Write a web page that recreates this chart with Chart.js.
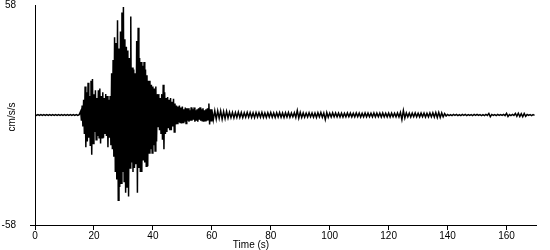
<!DOCTYPE html>
<html>
<head>
    <title>Acceleration record</title>
    <script src="https://cdn.jsdelivr.net/npm/chart.js"></script>
    <style>
        html, body { margin: 0; padding: 0; background: #fff; }
        #wrap { width: 550px; height: 250px; }
    </style>
</head>
<body>
<div id="wrap"><canvas id="accelChart" width="550" height="250"></canvas></div>
<script>
// --- Data (cm/s/s) ---
// quiet part before the P arrival, one sample every 0.5 s from 0 s
const preEvent = [
    0.2, -0.2, 0.2, -0.2, 0.2, -0.2, 0.2, -0.2, 0.2, -0.2,
    0.2, -0.2, 0.2, -0.2, 0.2, -0.2, 0.2, -0.2, 0.2, -0.2,
    0.2, -0.2, 0.2, -0.2, 0.2, -0.2, 0.2, -0.2, 0.2, -0.2, 0.2
];

// strong motion, one sample every 0.25 s from 15.5 s
const strongMotion = [
    2, -3,
    5, -6, 8, -10,          // 16 s
    15, -17, 12, -14,
    17, -12, 10, -16,
    18, -21, 19, -15,
    11, -9, 13, -13,        // 20 s
    9, -11, 13, -12,
    14, -15, 10, -12,
    12, -12, 9, -10,
    11, -11, 10, -17,
    8, -12, 10, -16,        // 25 s
    22, -18, 29, -22,
    41, -30, 38, -34,
    50, -45, 35, -38,
    44, -36, 54, -30,
    57, -35, 40, -41,       // 30 s
    36, -38, 34, -43,
    30, -28, 52, -25,
    25, -30, 24, -28,
    22, -26, 39, -41,
    46, -28, 30, -30,       // 35 s
    28, -30, 26, -24,
    28, -25, 24, -27,
    21, -27, 18, -20,
    18, -18, 16, -20,
    15, -16, 14, -19,       // 40 s
    15, -14, 11, -6,
    11, -8, 9, -10,
    11, -13, 16, -18,
    12, -10, 9, -9,
    9.5, -7, 8, -8,         // 45 s
    9, -8, 7, -6,
    8.5, -9, 6, -5,
    5, -4.5, 4.5, -4,
    5, -4, 4, -4.5,
    4.5, -4, 3, -3.5,       // 50 s
    4, -4.5, 3.5, -3,
    3.5, -3.5, 2.5, -3,
    4, -3, 3, -2.5,
    4, -3.5, 2.5, -3,
    3, -3.5, 3.5, -2.5,     // 55 s
    4, -3, 3, -3,
    3.5, -3.5, 2.5, -3,
    3, -3, 3.5, -2.5,
    6, -5, 3, -3
];

// coda, one sample every 0.5 s from 60 s
const coda = [
    3, -2.6, 2.2, -2.2,     // 60 s
    2.2, -1.8, 2.2, -2.2,
    1.8, -1.9, 1.9, -1.6,
    1.5, -1.4, 1.4, -1.5,
    1.3, -1.3, 1.5, -1.3,
    1.3, -1.4, 1.2, -1.2,   // 70 s
    1.4, -1.2, 1.3, -1.3,
    1.2, -1.4, 1.3, -1.1,
    1.2, -1.2, 1.4, -1.3,
    1.1, -1.3, 1.2, -1.1,
    1.3, -1.2, 1.1, -1.3,   // 80 s
    1.2, -1.1, 1.3, -1.2,
    1.1, -1.3, 1.2, -1.1,
    1.3, -1.2, 1.1, -1,
    1.2, -1.3, 2.4, -1.6,
    1.4, -1.3, 1.1, -1.2,   // 90 s
    1, -1.1, 1.2, -1,
    1.1, -1.2, 1, -1.3,
    1.2, -1, 1.3, -1.2,
    1.1, -2.4, 1.3, -1.2,
    1, -1.1, 1.2, -1,       // 100 s
    1.1, -1, 1, -1.1,
    1, -1.1, 0.9, -1,
    1.1, -0.9, 1, -1,
    0.9, -1, 1.1, -0.9,
    1, -1.1, 0.9, -1,       // 110 s
    1.1, -1, 1, -0.9,
    0.9, -1, 1.1, -1,
    1, -0.9, 1, -1.1,
    1.1, -1, 0.9, -1,
    1, -1.1, 1, -0.9,       // 120 s
    0.9, -1, 1.1, -1,
    1.4, -2.4, 2.4, -1.6,
    1.1, -1, 1, -1.1,
    1, -0.9, 1.1, -1,
    0.9, -1, 1, -0.9,       // 130 s
    1, -1.1, 0.9, -1,
    1.1, -1, 1.2, -1.1,
    1.3, -1.3, 1.4, -1.3,
    1.1, -1, 0.7, -0.5,
    0.3, -0.3, 0.2, -0.3,   // 140 s
    0.3, -0.2, 0.3, -0.3,
    0.2, -0.3, 0.3, -0.2,
    0.3, -0.3, 0.2, -0.2,
    0.2, -0.3, 0.3, -0.2,
    0.3, -0.2, 0.2, -0.3,   // 150 s
    0.2, -0.3, 0.3, -0.2,
    0.8, -0.9, 0.3, -0.2,
    0.2, -0.3, 0.3, -0.2,
    0.2, -0.2, 0.3, -0.3,
    0.9, -0.8, 0.2, -0.3,   // 160 s
    0.3, -0.2, 0.8, -0.7,
    0.9, -0.8, 0.7, -0.9,
    0.8, -0.7, 0.3, -0.2,
    0.2, -0.3, 0.2, -0.2
];

const yTickValues = [-58, 58];
const xMax = 170;

// --- Build the trace (times from each segment's sample rate) ---
const trace = [];
preEvent.forEach((v, i) => trace.push({ x: i * 0.5, y: v }));
strongMotion.forEach((v, i) => trace.push({ x: 15.5 + i * 0.25, y: v }));
coda.forEach((v, i) => trace.push({ x: 60 + i * 0.5, y: v }));

const FONT = 'Arial, "Liberation Sans", sans-serif';

// axis titles sit off-centre in the original, so draw them ourselves
const axisTitles = {
    id: 'axisTitles',
    afterDraw(chart) {
        const ctx = chart.ctx;
        ctx.save();
        ctx.fillStyle = '#000';
        ctx.font = '10px ' + FONT;
        ctx.textAlign = 'center';
        ctx.textBaseline = 'middle';
        ctx.fillText('Time (s)', 251, 245);
        ctx.translate(12, 117);
        ctx.rotate(-Math.PI / 2);
        ctx.fillText('cm/s/s', 0, 0);
        ctx.restore();
    }
};

new Chart(document.getElementById('accelChart').getContext('2d'), {
    type: 'line',
    data: {
        datasets: [{
            label: 'Acceleration',
            data: trace,
            borderColor: '#000',
            borderWidth: 1.5,
            pointRadius: 0,
            tension: 0,
            fill: false
        }]
    },
    options: {
        responsive: false,
        animation: false,
        layout: { padding: { top: 5, right: 14, left: 0, bottom: 0 } },
        plugins: { legend: { display: false }, tooltip: { enabled: false } },
        scales: {
            x: {
                type: 'linear',
                min: 0,
                max: xMax,
                afterFit: s => { s.height = 25; },
                afterBuildTicks: s => { s.ticks = s.ticks.filter(t => t.value % 20 === 0); },
                border: { display: true, color: '#000', width: 1 },
                grid: { drawOnChartArea: false, drawTicks: true, tickLength: 5, color: '#000' },
                ticks: { stepSize: 20, padding: 0, color: '#000', font: { family: FONT, size: 10 } }
            },
            y: {
                min: -58,
                max: 58,
                // keep the plot flush with the top; the label padding would push it down
                afterFit: s => { s.width = 35; s.paddingTop = 0; s.paddingBottom = 0; },
                afterBuildTicks: s => { s.ticks = yTickValues.map(v => ({ value: v })); },
                border: { display: true, color: '#000', width: 1 },
                grid: {
                    drawOnChartArea: false,
                    drawTicks: true,
                    tickLength: 5,
                    color: c => (c.tick && c.tick.value === -58) ? '#000' : 'rgba(0,0,0,0)'
                },
                ticks: { padding: 14, color: '#000', font: { family: FONT, size: 10 } }
            }
        }
    },
    plugins: [axisTitles]
});
</script>
</body>
</html>
